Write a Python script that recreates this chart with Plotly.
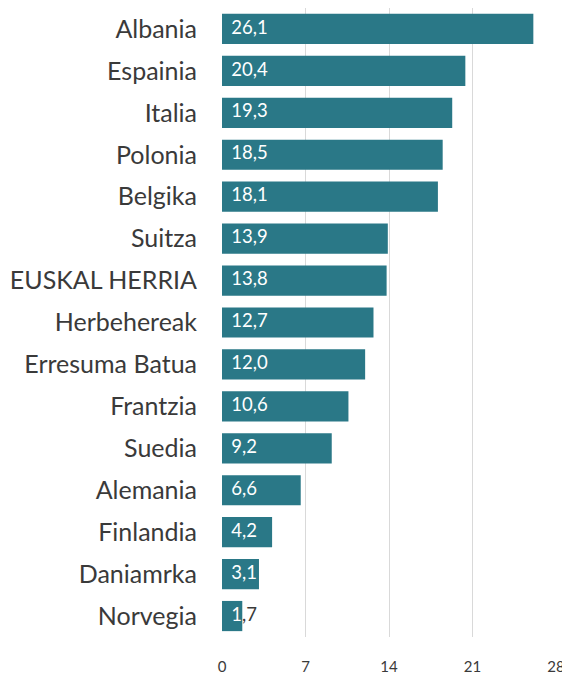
import plotly.graph_objects as go

countries = ["Albania", "Espainia", "Italia", "Polonia", "Belgika", "Suitza",
             "EUSKAL HERRIA", "Herbehereak", "Erresuma Batua", "Frantzia",
             "Suedia", "Alemania", "Finlandia", "Daniamrka", "Norvegia"]
values = [26.1, 20.4, 19.3, 18.5, 18.1, 13.9, 13.8, 12.7, 12.0, 10.6,
          9.2, 6.6, 4.2, 3.1, 1.7]
x_ticks = [0, 7, 14, 21, 28]

BAR = "#2a7887"
FONT = "Lato"
TXT = "#3a3a3a"
PAD = "\u2002"
labels = [PAD + f"{v:.1f}".replace(".", ",") for v in values]
short = [v < 2.5 for v in values]

n = len(countries)
yrange = [n - 0.5, -0.5]
xmax = 28

fig = go.Figure()
fig.add_trace(go.Bar(
    x=values, y=countries, orientation="h",
    marker=dict(color=BAR, line=dict(width=0)),
    hoverinfo="skip", showlegend=False,
))
# dark labels (visible only where text runs past a short bar)
fig.add_trace(go.Scatter(
    x=[0 for v, s in zip(values, short) if s],
    y=[c for c, s in zip(countries, short) if s],
    text=[t for t, s in zip(labels, short) if s],
    mode="text", textposition="middle right",
    textfont=dict(family=FONT, size=18.5, color=TXT),
    cliponaxis=False, showlegend=False, hoverinfo="skip",
))
# white labels on long bars
fig.add_trace(go.Scatter(
    x=[0 for v, s in zip(values, short) if not s],
    y=[c for c, s in zip(countries, short) if not s],
    text=[t for t, s in zip(labels, short) if not s],
    mode="text", textposition="middle right",
    textfont=dict(family=FONT, size=18.5, color="white"),
    cliponaxis=False, showlegend=False, hoverinfo="skip",
))
# white labels on short bars, clipped to the bar length
short_vals = [v for v, s in zip(values, short) if s]
clip_w = max(short_vals) if short_vals else 1
fig.add_trace(go.Scatter(
    x=[0 for v, s in zip(values, short) if s],
    y=[c for c, s in zip(countries, short) if s],
    text=[t for t, s in zip(labels, short) if s],
    mode="text", textposition="middle right",
    textfont=dict(family=FONT, size=18.5, color="white"),
    cliponaxis=True, showlegend=False, hoverinfo="skip",
    xaxis="x2", yaxis="y2",
))

fig.update_layout(
    width=562, height=677,
    margin=dict(l=222, r=6, t=8, b=40, autoexpand=False),
    paper_bgcolor="white", plot_bgcolor="rgba(0,0,0,0)",
    bargap=0.28,
    font=dict(family=FONT, color=TXT),
    xaxis=dict(range=[0, xmax], tickvals=x_ticks, showgrid=True,
               gridcolor="#d9d9d9", gridwidth=1, zeroline=False,
               showline=False, ticks="", tickfont=dict(size=15, color=TXT),
               ticklabelstandoff=19, ticklabeloverflow="allow",
               automargin=False, fixedrange=True),
    yaxis=dict(categoryorder="array", categoryarray=countries, range=yrange,
               showgrid=False, zeroline=False, showline=False, ticks="",
               tickfont=dict(size=25, color=TXT), ticklabelstandoff=24,
               automargin=False),
    xaxis2=dict(domain=[0, clip_w / xmax], range=[0, clip_w], visible=False,
                anchor="y2"),
    yaxis2=dict(domain=[0, 1], categoryorder="array", categoryarray=countries,
                range=yrange, visible=False, anchor="x2"),
)

fig.write_html("out.html", config={"displayModeBar": False},
               post_script="document.body.style.margin='0';document.body.style.overflow='hidden';")
